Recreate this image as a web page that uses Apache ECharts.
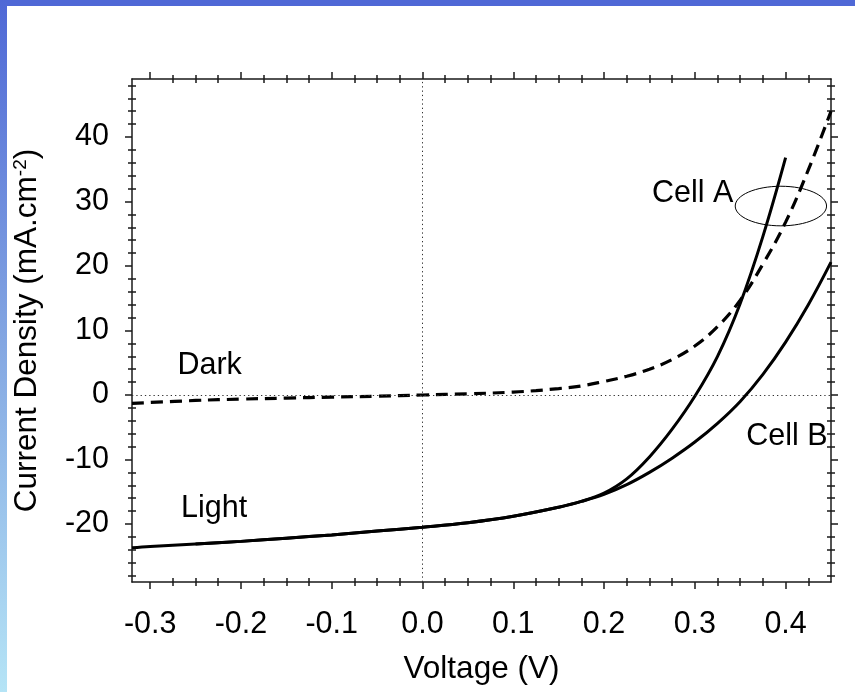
<!DOCTYPE html>
<html>
<head>
<meta charset="utf-8">
<script src="https://cdn.jsdelivr.net/npm/echarts@6/dist/echarts.min.js"></script>
<style>
  html, body { margin: 0; padding: 0; background: #fff; }
  #chart { width: 855px; height: 692px; }
</style>
</head>
<body>
<div id="chart"></div>
<script>
// dark J-V curve (dashed)
const darkV = [-0.32, -0.25, -0.2, -0.15, -0.1, -0.05, 0, 0.05, 0.1, 0.125, 0.15, 0.175, 0.2, 0.225, 0.25,
  0.275, 0.3, 0.325, 0.35, 0.375, 0.4, 0.425, 0.45]
const darkJ = [-1.3, -0.85, -0.64, -0.48, -0.33, -0.18, 0, 0.18, 0.45, 0.68, 1.0, 1.4, 2.1, 2.9, 4.0,
  5.5, 7.6, 10.6, 14.7, 20.3, 26.8, 34.9, 44.0]

// light, cell A
const cellAV = [-0.25, -0.2, -0.15, -0.1, -0.05, 0, 0.05, 0.1, 0.15, 0.175, 0.2, 0.225, 0.25, 0.275, 0.3,
  0.325, 0.35, 0.375, 0.4]
const cellAJ = [-23.1, -22.7, -22.2, -21.7, -21.1, -20.5, -19.8, -18.8, -17.4, -16.5, -15.2, -13.0, -9.6, -5.3, -0.2,
  6.0, 14.2, 24.6, 36.8]

// light, cell B
const cellBV = [-0.32, -0.3, -0.25, -0.2, -0.15, -0.1, -0.05, 0, 0.05, 0.1, 0.15, 0.175, 0.2, 0.225, 0.25,
  0.275, 0.3, 0.325, 0.35, 0.375, 0.4, 0.425, 0.45]
const cellBJ = [-23.7, -23.5, -23.1, -22.7, -22.2, -21.7, -21.1, -20.5, -19.8, -18.8, -17.4, -16.5, -15.4, -13.9, -12.0,
  -9.8, -7.3, -4.4, -1.0, 3.2, 8.2, 14.0, 20.6]

// tick positions
const xMajor = [-0.3, -0.2, -0.1, 0, 0.1, 0.2, 0.3, 0.4]
const xMinor = [-0.275, -0.25, -0.225, -0.175, -0.15, -0.125, -0.075, -0.05, -0.025, 0.025, 0.05, 0.075,
  0.125, 0.15, 0.175, 0.225, 0.25, 0.275, 0.325, 0.35, 0.375, 0.425]
const yMajor = [-20, -10, 0, 10, 20, 30, 40]
const yMinor = [-28, -26, -24, -22, -18, -16, -14, -12, -8, -6, -4, -2, 2, 4, 6, 8, 12, 14, 16, 18,
  22, 24, 26, 28, 32, 34, 36, 38, 42, 44, 46, 48]

const notes = [
  { text: 'Dark', v: -0.27, j: 4.8 },
  { text: 'Light', v: -0.266, j: -17.3 },
  { text: 'Cell A', v: 0.2528, j: 31.5 },
  { text: 'Cell B', v: 0.3567, j: -6.1 }
]

const FONT = '"Liberation Sans", Arial, Helvetica, sans-serif'
const INK = '#1a1a1a'
const FS = 30.5
const TITLE_FS = 31.5

function pairs(xs, ys) {
  return xs.map((x, i) => [x, ys[i]])
}

function axis(kind, pos, extra) {
  const base = {
    type: 'value',
    position: pos,
    min: kind === 'x' ? -0.32 : -29,
    max: kind === 'x' ? 0.45 : 49,
    axisLine: { show: false, onZero: false },
    splitLine: { show: false },
    axisLabel: { show: false },
    axisTick: { show: false }
  }
  return Object.assign(base, extra)
}

function tickSet(kind, pos, withLabels) {
  const major = kind === 'x' ? xMajor : yMajor
  const minor = kind === 'x' ? xMinor : yMinor
  const tl = { color: INK, width: 1.5 }
  return [
    axis(kind, pos, {
      axisLine: { show: true, onZero: false, lineStyle: { color: INK, width: 1.5 } },
      axisTick: { show: true, customValues: major, length: 7, inside: false, lineStyle: tl },
      axisLabel: withLabels ? {
        show: true,
        customValues: major,
        color: '#000',
        fontSize: FS,
        fontFamily: FONT,
        margin: kind === 'x' ? 27 : 23,
        formatter: kind === 'x' ? (v) => v.toFixed(1) : (v) => String(v)
      } : { show: false }
    }),
    axis(kind, pos, { axisTick: { show: true, customValues: minor, length: 4, inside: false, lineStyle: tl } }),
    axis(kind, pos, { axisTick: { show: true, customValues: minor, length: 4, inside: true, lineStyle: tl } })
  ]
}

const xAxes = [...tickSet('x', 'bottom', true), ...tickSet('x', 'top', false)]
const yAxes = [...tickSet('y', 'left', true), ...tickSet('y', 'right', false)]

xAxes[0].name = 'Voltage (V)'
xAxes[0].nameLocation = 'middle'
xAxes[0].nameGap = 71
xAxes[0].nameTextStyle = { color: '#000', fontSize: TITLE_FS, fontFamily: FONT }

yAxes[0].name = 'Current Density (mA.cm{sup|-2})'
yAxes[0].nameLocation = 'middle'
yAxes[0].nameGap = 89
yAxes[0].nameTextStyle = {
  color: '#000',
  fontSize: TITLE_FS,
  fontFamily: FONT,
  rich: { sup: { fontSize: 19, fontFamily: FONT, color: '#000', verticalAlign: 'top' } }
}

const chart = echarts.init(document.getElementById('chart'), null, { renderer: 'canvas' })

chart.setOption({
  animation: false,
  backgroundColor: '#fff',
  grid: { left: 132, right: 24, top: 79, bottom: 110, containLabel: false },
  xAxis: xAxes,
  yAxis: yAxes,
  series: [
    {
      name: 'Dark',
      type: 'line',
      data: pairs(darkV, darkJ),
      showSymbol: false,
      smooth: 0.4,
      lineStyle: { color: '#000', width: 3.2, type: [12, 7] },
      markLine: {
        silent: true,
        symbol: 'none',
        label: { show: false },
        lineStyle: { color: '#333', width: 1, type: [1.3, 3] },
        data: [{ xAxis: 0 }, { yAxis: 0 }]
      }
    },
    {
      name: 'Cell A',
      type: 'line',
      data: pairs(cellAV, cellAJ),
      showSymbol: false,
      smooth: 0.4,
      lineStyle: { color: '#000', width: 3 }
    },
    {
      name: 'Cell B',
      type: 'line',
      data: pairs(cellBV, cellBJ),
      showSymbol: false,
      smooth: 0.4,
      lineStyle: { color: '#000', width: 3 }
    }
  ]
})

// annotations placed through the axis scales
const toPx = (v, j) => chart.convertToPixel({ xAxisIndex: 0, yAxisIndex: 0 }, [v, j])
const c = toPx(0.3948, 29.3)
const e = toPx(0.3948 + 0.0503, 29.3 + 3.07)

const graphics = [
  { type: 'rect', shape: { x: 0, y: 0, width: 855, height: 6 }, style: { fill: '#4f68d6' }, z: 10 },
  {
    type: 'rect',
    shape: { x: 0, y: 0, width: 7, height: 692 },
    style: {
      fill: new echarts.graphic.LinearGradient(0, 0, 0, 1, [
        { offset: 0, color: '#4f68d6' },
        { offset: 0.5, color: '#84a7e2' },
        { offset: 1, color: '#b5e4f6' }
      ])
    },
    z: 10
  },
  {
    type: 'ellipse',
    shape: { cx: c[0], cy: c[1], rx: e[0] - c[0], ry: c[1] - e[1] },
    style: { fill: 'none', stroke: '#000', lineWidth: 1 },
    z: 10
  }
]

notes.forEach((n) => {
  const p = toPx(n.v, n.j)
  graphics.push({
    type: 'text',
    x: p[0],
    y: p[1] + 2,
    style: { text: n.text, fill: '#000', font: FS + 'px ' + FONT, align: 'left', verticalAlign: 'middle' },
    z: 10
  })
})

chart.setOption({ graphic: graphics })
</script>
</body>
</html>
